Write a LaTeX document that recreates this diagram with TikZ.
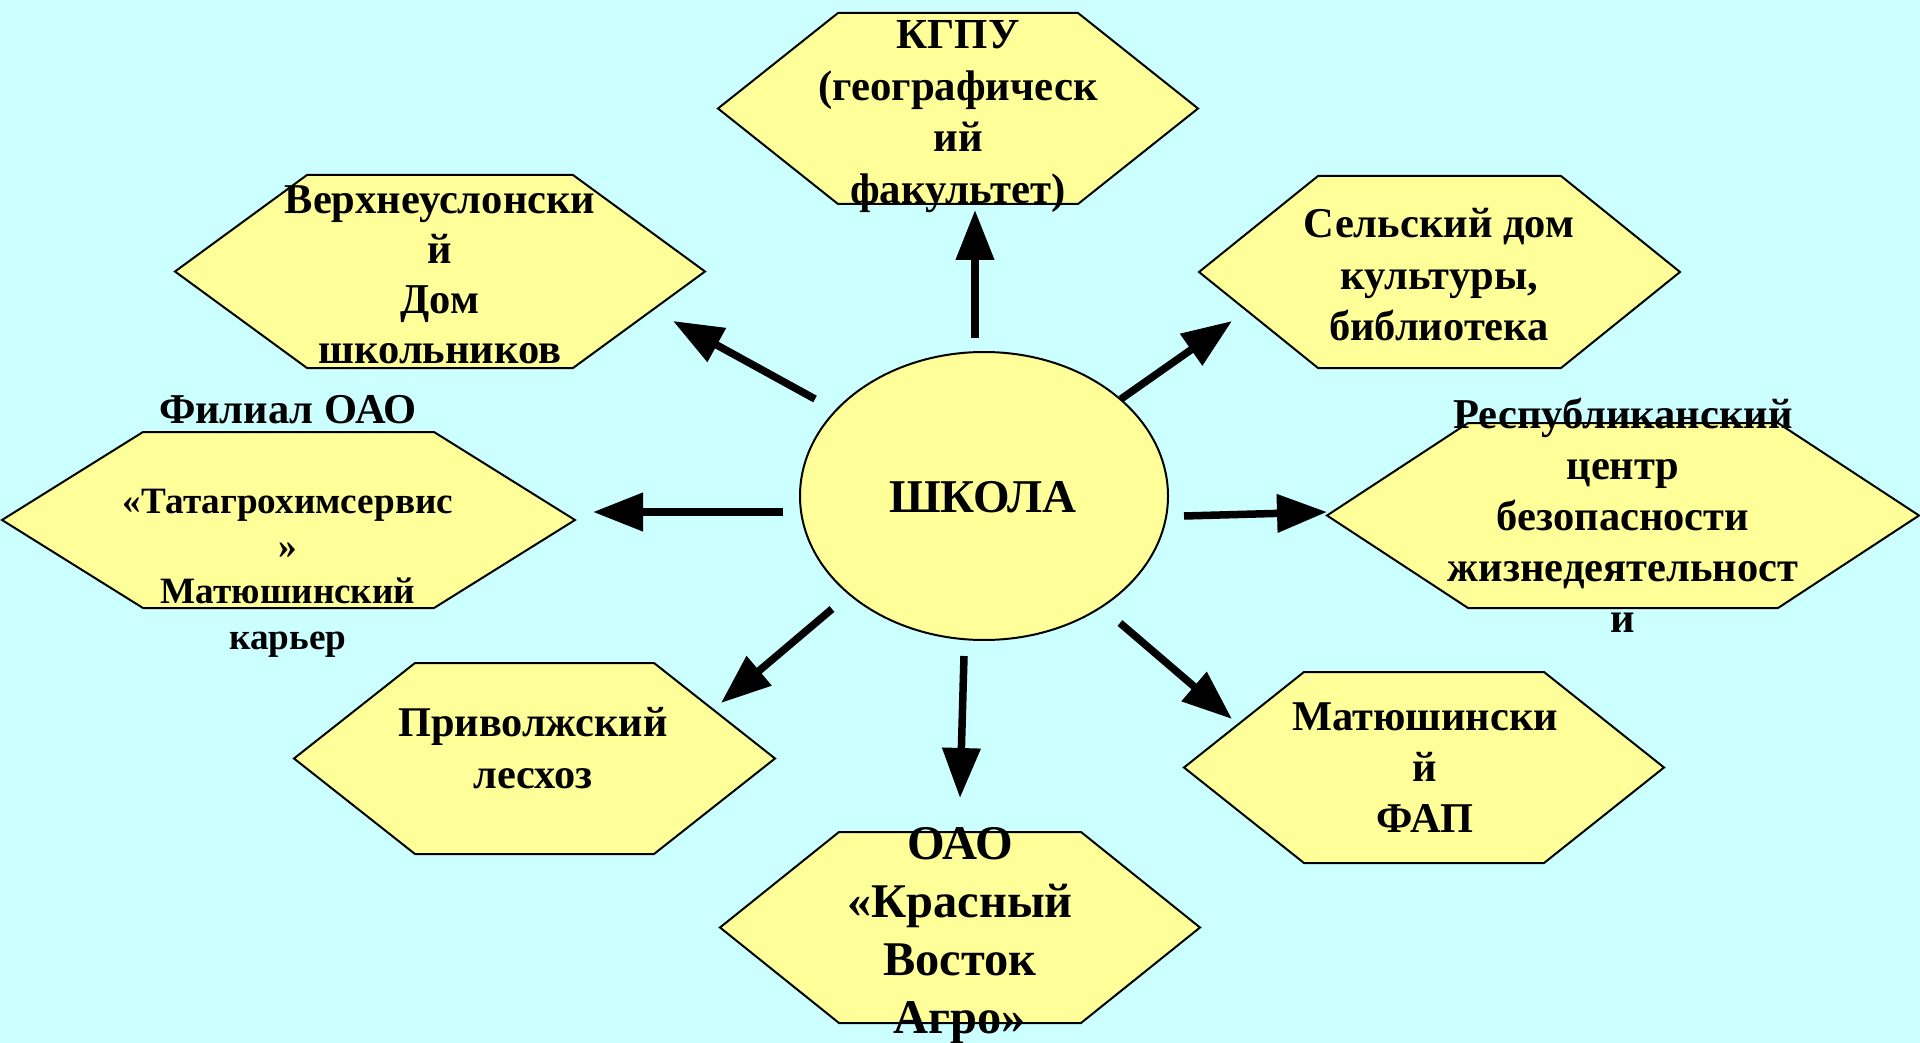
\documentclass[tikz,border=0pt]{standalone}
\usepackage{fontspec}
\setmainfont{Liberation Serif}
\usetikzlibrary{arrows.meta,shapes.geometric}
\definecolor{bgcol}{RGB}{204,255,255}
\definecolor{hexfill}{RGB}{255,255,153}
\newcommand\hexoutline[2]{%
  \path[hexline] (#1.west) -- ([xshift=#2]#1.north west) -- ([xshift=-#2]#1.north east)
    -- (#1.east) -- ([xshift=-#2]#1.south east) -- ([xshift=#2]#1.south west) -- cycle;}
\begin{document}
\begin{tikzpicture}[x=1pt,y=-1pt,
  hexbox/.style={inner sep=0pt, outer sep=0pt},
  hexline/.style={draw=black, line width=2pt, fill=hexfill, line join=miter},
  txt/.style={align=center, inner sep=0pt, text=black},
  arr/.style={line width=7.5pt, -{Triangle[length=50pt,width=37pt]}},
]
\fill[bgcol] (0,0) rectangle (1920,1043);
\useasboundingbox (0,0) rectangle (1920,1043);

% hexagon frames
\node[hexbox, minimum width=480pt, minimum height=191pt] (kgpu) at (958,108.5) {};
\node[hexbox, minimum width=530pt, minimum height=193pt] (verh) at (440,271.5) {};
\node[hexbox, minimum width=481pt, minimum height=192pt] (selsk) at (1439.5,272) {};
\node[hexbox, minimum width=573pt, minimum height=176pt] (filial) at (288.5,520) {};
\node[hexbox, minimum width=592pt, minimum height=185pt] (resp) at (1623,515.5) {};
\node[hexbox, minimum width=481pt, minimum height=191pt] (privol) at (534.5,758.5) {};
\node[hexbox, minimum width=480pt, minimum height=191pt] (fap) at (1424,767.5) {};
\node[hexbox, minimum width=480pt, minimum height=191pt] (oao) at (960,927.5) {};

\hexoutline{kgpu}{120pt}
\hexoutline{verh}{132pt}
\hexoutline{selsk}{119pt}
\hexoutline{filial}{141pt}
\hexoutline{resp}{141pt}
\hexoutline{privol}{121pt}
\hexoutline{fap}{120pt}
\hexoutline{oao}{119pt}

% centre
\node[ellipse, draw=black, line width=2pt, fill=hexfill, minimum width=368pt, minimum height=288pt, inner sep=0pt] (school) at (984,496) {};
\node[txt, font=\fontsize{47}{58}\selectfont\bfseries] (tschool) at (983,497) {ШКОЛА};

% texts
\node[txt, font=\fontsize{42.8}{51.5}\selectfont\bfseries] (tkgpu) at (958,116.5) {КГПУ\\(географическ\\ий\\факультет)};
\node[txt, font=\fontsize{42.5}{50}\selectfont\bfseries] (tverh) at (440,275) {Верхнеуслонски\\й\\Дом\\школьников};
\node[txt, font=\fontsize{42.5}{51.5}\selectfont\bfseries] (tselsk) at (1439,275) {Сельский дом\\культуры,\\библиотека};
\node[txt, font=\fontsize{42.5}{51}\selectfont\bfseries] (tfilialhead) at (288,410) {Филиал ОАО};
\node[txt, font=\fontsize{37.2}{45.3}\selectfont\bfseries] (tfilial) at (288,573) {«Татагрохимсервис\\»\\Матюшинский\\карьер};
\node[txt, font=\fontsize{42.5}{51}\selectfont\bfseries] (tresp) at (1623,515) {Республиканский\\центр\\безопасности\\жизнедеятельност\\и};
\node[txt, font=\fontsize{42.3}{51.5}\selectfont\bfseries] (tprivol) at (533,748) {Приволжский\\лесхоз};
\node[txt, font=\fontsize{42.4}{51}\selectfont\bfseries] (tfap) at (1425,768) {Матюшински\\й\\ФАП};
\node[txt, font=\fontsize{48.4}{58}\selectfont\bfseries] (toao) at (960,936) {ОАО\\«Красный\\Восток\\Агро»};

% arrow end points
\coordinate (a1s) at (975,338);  \coordinate (a1e) at (975,210);
\coordinate (a2s) at (815,399);  \coordinate (a2e) at (673,321);
\coordinate (a3s) at (783,512);  \coordinate (a3e) at (593,512);
\coordinate (a4s) at (832,609);  \coordinate (a4e) at (721,703);
\coordinate (a5s) at (1121,399); \coordinate (a5e) at (1232,321);
\coordinate (a6s) at (1184,516); \coordinate (a6e) at (1327,512);
\coordinate (a7s) at (1120,623); \coordinate (a7e) at (1232,719);
\coordinate (a8s) at (964,656);  \coordinate (a8e) at (960,798);

\foreach \i in {1,...,8} {\draw[arr] (a\i s) -- (a\i e);}
\end{tikzpicture}
\end{document}
